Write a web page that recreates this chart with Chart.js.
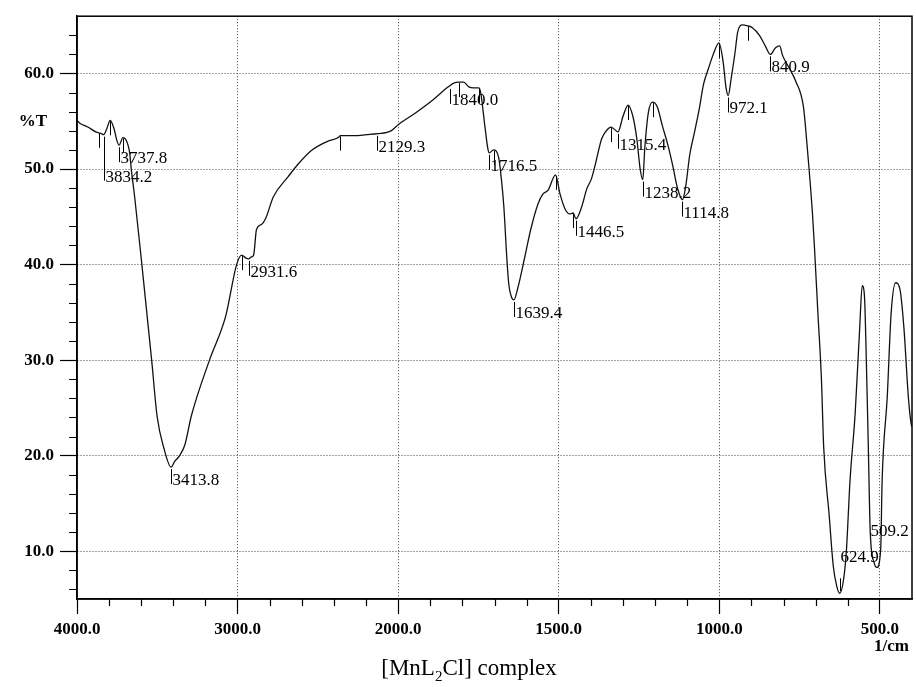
<!DOCTYPE html>
<html>
<head>
<meta charset="utf-8">
<script src="https://cdn.jsdelivr.net/npm/chart.js@4.4.0/dist/chart.umd.min.js"></script>
<style>
  html, body { margin: 0; padding: 0; background: #fff; }
  #wrap { position: relative; width: 916px; height: 687px; }
  #caption {
    position: absolute; left: 11px; width: 916px; top: 655px;
    text-align: center; font: 23px "Liberation Serif", "Times New Roman", serif; color: #000;
  }
  #caption sub { font-size: 15px; line-height: 0; }
</style>
</head>
<body>
<div id="wrap">
  <canvas id="irChart" width="916" height="687"></canvas>
  <div id="caption">[MnL<sub>2</sub>Cl] complex</div>
</div>
<script>
// Spectrum trace (wavenumber in 1/cm, %T)
const WAVENUMBERS = [
  4000, 3982, 3933, 3884, 3866, 3848, 3834.2, 3815, 3793, 3769, 3750, 3737.8, 3714, 3696, 3672,
  3662, 3641, 3596, 3535, 3501, 3459, 3413.8, 3392, 3361, 3327, 3289, 3175, 3074, 3006,
  2975, 2950, 2931.6, 2913, 2900, 2882, 2851, 2826, 2777, 2685, 2624, 2544, 2440, 2365, 2361,
  2275, 2196, 2129.3, 2044, 1998, 1945, 1893, 1848, 1840, 1827, 1811, 1796, 1780, 1765, 1749,
  1743, 1730, 1721, 1716.5, 1703, 1687, 1681, 1671, 1662, 1656, 1646, 1639.4, 1627, 1605,
  1587, 1564, 1549, 1533, 1510, 1496, 1480, 1465, 1455, 1446.5, 1428, 1413, 1398, 1386, 1366,
  1347, 1337, 1315.4, 1300, 1284, 1269, 1257, 1246, 1238.2, 1232, 1221, 1208, 1193, 1177,
  1160, 1144, 1131, 1114.8, 1105, 1092, 1077, 1063, 1049, 1034, 1020, 1001, 988, 979, 972.1,
  963, 951, 943, 928, 912, 897, 875, 857, 840.9, 825, 812, 803, 781, 762, 738, 726, 710,
  704, 693, 682, 675, 658, 645, 634, 624.9, 612, 604, 593, 577, 563, 555, 548, 542, 536,
  530, 518, 509.2, 497.5, 493, 477, 465, 451, 437.5, 425, 411.5, 403, 400
];
const TRANSMITTANCE = [
  55.1, 54.8, 54.4, 53.9, 53.8, 53.7, 53.6, 54.2, 55.1, 54.2, 52.9, 52.5, 53.3, 53.1, 51.7,
  50.0, 47.1, 40.0, 30.0, 24.1, 20.8, 18.8, 19.4, 20.0, 21.2, 24.1, 30.0, 34.6, 40.0,
  41.0, 40.7, 40.6, 40.8, 41.0, 43.7, 44.2, 44.8, 47.1, 49.2, 50.5, 51.9, 52.9, 53.4, 53.5,
  53.5, 53.6, 53.7, 54.0, 54.7, 55.9, 57.2, 58.5, 58.7, 59.0, 59.1, 59.1, 58.6, 58.5, 58.5,
  58.0, 54.5, 52.2, 51.7, 52.0, 51.2, 49.7, 46.1, 40.9, 38.1, 36.5, 36.3, 37.6, 40.9,
  43.7, 46.4, 47.4, 47.8, 49.4, 47.4, 45.8, 45.3, 45.4, 44.8, 46.1, 47.9, 49.0, 50.5, 53.2,
  54.2, 54.4, 53.9, 55.5, 56.7, 55.5, 53.2, 49.9, 48.9, 52.2, 55.9, 57.0, 56.5, 54.5,
  52.5, 50.2, 48.1, 46.8, 48.1, 51.5, 53.9, 56.2, 58.9, 60.5, 61.9, 63.2, 61.2, 58.5, 57.7,
  59.5, 62.2, 64.3, 65.1, 65.0, 64.8, 64.0, 62.9, 62.0, 62.7, 62.9, 61.9, 60.5, 59.2, 56.5, 52.2, 45.4,
  42.0, 34.9, 28.0, 20.9, 13.8, 8.4, 6.3, 5.6, 7.3, 10.2, 17.4, 24.4, 33.3, 37.8, 36.7, 29.7, 20.9,
  12.0, 8.8, 8.3, 10.2, 17.4, 26.2, 34.9, 38.1, 37.4, 33.3, 26.2, 23.4, 23.0
];

// Labelled peaks
const PEAK_LABELS = ['3834.2', '3737.8', '3413.8', '2931.6', '2129.3', '1840.0', '1716.5', '1639.4',
  '1446.5', '1315.4', '1238.2', '1114.8', '972.1', '840.9', '624.9', '509.2'];
const PEAK_WN = [3834.2, 3737.8, 3413.8, 2931.6, 2129.3, 1840.0, 1716.5, 1639.4,
  1446.5, 1315.4, 1238.2, 1114.8, 972.1, 840.9, 624.9, 509.2];
const PEAK_T = [53.6, 52.5, 18.8, 40.6, 53.7, 58.6, 51.7, 36.3,
  44.8, 53.9, 48.9, 46.8, 57.7, 62.0, 5.6, 8.3];

// Unlabelled peak-pick marks
const MARK_WN = [3866, 3793, 3714, 2975, 2361, 1811, 1749, 1703, 1510, 1455, 1337, 1284, 1208, 1001, 912];
const MARK_T = [53.8, 55.1, 53.3, 41.0, 53.5, 59.1, 58.5, 52.0, 49.4, 45.4, 54.4, 56.7, 57.0, 63.2, 65.0];

// Axis ticks
const X_MAJOR = [4000, 3000, 2000, 1500, 1000, 500];
const X_MINOR = [3800, 3600, 3400, 3200, 2800, 2600, 2400, 2200, 1900, 1800, 1700, 1600,
  1400, 1300, 1200, 1100, 900, 800, 700, 600];
const Y_MAJOR = [10, 20, 30, 40, 50, 60];
const Y_MINOR = [6, 8, 12, 14, 16, 18, 22, 24, 26, 28, 32, 34, 36, 38, 42, 44, 46, 48,
  52, 54, 56, 58, 62, 64];

const SPLIT_WN = 2000; // below this the printout uses a 2x expanded scale

const SERIF = "'Liberation Serif', 'Times New Roman', serif";

// label placement tweaks (offsets in px from the peak)
const PEAK_LAYOUT = {
  '3834.2': { len: 46 },
  '624.9': { len: -15, dx: 0, dy: -31 },
  '509.2': { len: 0, dx: -7, dy: -31 }
};

/**
 * Wavenumber axis: linear pieces, 4000-2000 compressed by half
 */
class WavenumberScale extends Chart.LinearScale {
    _parts() {
        const upper = (this.max - SPLIT_WN) / 2;
        const lower = SPLIT_WN - this.min;
        return { upper, total: upper + lower };
    }
    buildTicks() {
        return X_MAJOR.map(v => ({ value: v }));
    }
    getPixelForValue(value) {
        const { upper, total } = this._parts();
        const d = value >= SPLIT_WN
            ? ((this.max - value) / 2) / total
            : (upper + (SPLIT_WN - value)) / total;
        return this.getPixelForDecimal(d);
    }
    getValueForPixel(pixel) {
        const { upper, total } = this._parts();
        const u = this.getDecimalForPixel(pixel) * total;
        return u <= upper ? this.max - 2 * u : SPLIT_WN - (u - upper);
    }
}
WavenumberScale.id = 'wavenumber';
WavenumberScale.defaults = {};
Chart.register(WavenumberScale);

// frame, minor ticks, peak marks and axis captions
const irExtras = {
    id: 'irExtras',
    afterDraw(chart) {
        const { ctx, chartArea: a, scales: { x, y } } = chart;
        ctx.save();

        ctx.strokeStyle = '#000';
        ctx.lineWidth = 1.5;
        ctx.strokeRect(a.left, a.top, a.right - a.left, a.bottom - a.top);

        ctx.lineWidth = 1.2;
        ctx.beginPath();
        X_MINOR.forEach(w => {
            const px = Math.round(x.getPixelForValue(w)) + 0.5;
            ctx.moveTo(px, a.bottom);
            ctx.lineTo(px, a.bottom + 7);
        });
        Y_MINOR.forEach(v => {
            const py = Math.round(y.getPixelForValue(v)) + 0.5;
            ctx.moveTo(a.left - 8, py);
            ctx.lineTo(a.left, py);
        });
        ctx.stroke();

        // unlabelled marks
        ctx.lineWidth = 1;
        ctx.beginPath();
        MARK_WN.forEach((w, i) => {
            const px = Math.round(x.getPixelForValue(w)) + 0.5;
            const py = y.getPixelForValue(MARK_T[i]);
            ctx.moveTo(px, py + 1);
            ctx.lineTo(px, py + 15);
        });
        ctx.stroke();

        // labelled peaks
        ctx.fillStyle = '#000';
        ctx.font = '17px ' + SERIF;
        ctx.textAlign = 'left';
        ctx.textBaseline = 'alphabetic';
        PEAK_WN.forEach((w, i) => {
            const label = PEAK_LABELS[i];
            const lay = PEAK_LAYOUT[label] || {};
            const len = lay.len !== undefined ? lay.len : 17;
            const dx = lay.dx !== undefined ? lay.dx : 1;
            const dy = lay.dy !== undefined ? lay.dy : len + 1;
            const px = Math.round(x.getPixelForValue(w)) + 0.5;
            const py = y.getPixelForValue(PEAK_T[i]);
            if (len !== 0) {
                ctx.beginPath();
                ctx.moveTo(px, py + (len > 0 ? 2 : -2));
                ctx.lineTo(px, py + len);
                ctx.stroke();
            }
            ctx.fillText(label, px + dx, py + dy);
        });

        ctx.font = 'bold 17px ' + SERIF;
        ctx.textAlign = 'center';
        ctx.textBaseline = 'middle';
        ctx.fillText('%T', 33, 122);
        ctx.textAlign = 'right';
        ctx.fillText('1/cm', 909, 647);

        ctx.restore();
    }
};

Chart.defaults.font.family = SERIF;
Chart.defaults.color = '#000';

const tickFont = { family: SERIF, size: 17, weight: 'bold' };

new Chart(document.getElementById('irChart').getContext('2d'), {
    type: 'line',
    data: {
        datasets: [{
            label: '%T',
            data: WAVENUMBERS.map((w, i) => ({ x: w, y: TRANSMITTANCE[i] })),
            borderColor: '#111',
            borderWidth: 1.3,
            pointRadius: 0,
            fill: false,
            cubicInterpolationMode: 'monotone'
        }]
    },
    options: {
        responsive: false,
        devicePixelRatio: 1,
        animation: false,
        layout: { padding: { top: 14, right: 4, left: 0, bottom: 0 } },
        plugins: {
            legend: { display: false },
            tooltip: { enabled: false }
        },
        scales: {
            x: {
                type: 'wavenumber',
                min: 400,
                max: 4000,
                afterFit: s => { s.height = 88; },
                grid: { color: '#444', lineWidth: 1, tickLength: 15, tickColor: '#000', tickWidth: 1.2 },
                border: { display: true, color: '#000', width: 1.5, dash: [1, 2] },
                ticks: {
                    autoSkip: false,
                    maxRotation: 0,
                    padding: 5,
                    font: tickFont,
                    callback: v => Number(v).toFixed(1)
                }
            },
            y: {
                type: 'linear',
                min: 5,
                max: 66,
                afterBuildTicks: s => { s.ticks = Y_MAJOR.map(v => ({ value: v })); },
                afterFit: s => { s.width = 77; },
                grid: { color: '#444', lineWidth: 1, tickLength: 17, tickColor: '#000', tickWidth: 1.2 },
                border: { display: true, color: '#000', width: 1.5, dash: [1, 2] },
                ticks: {
                    padding: 6,
                    font: tickFont,
                    callback: v => Number(v).toFixed(1)
                }
            }
        }
    },
    plugins: [irExtras]
});
</script>
</body>
</html>
